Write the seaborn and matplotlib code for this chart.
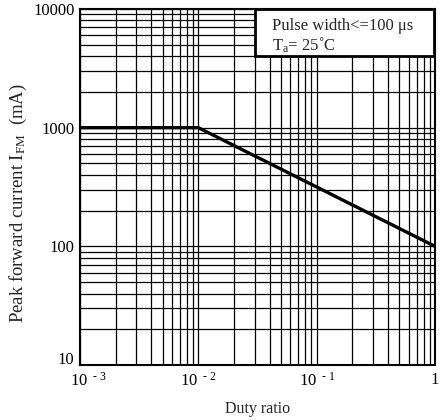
import numpy as np
import pandas as pd
import matplotlib
matplotlib.use("Agg")
import matplotlib.pyplot as plt
import matplotlib.transforms as mtransforms
import seaborn as sns
from matplotlib.ticker import LogLocator, NullFormatter, FixedLocator
from matplotlib.patches import Rectangle

duty_ratio = [0.001, 0.01, 1.0]
peak_current = [1000, 1000, 100]
x_ticks = [1e-3, 1e-2, 1e-1, 1]
x_labels = [r"$\mathregular{10^{\ \ ‐\ 3}}$", r"$\mathregular{10^{\ \ ‐\ 2}}$", r"$\mathregular{10^{\ \ ‐\ 1}}$", "1"]
y_ticks = [10, 100, 1000, 10000]
y_labels = ["10", "100", "1000", "10000"]

sns.set_style("white")
plt.rcParams['font.family'] = ['Liberation Serif', 'DejaVu Serif']
plt.rcParams['mathtext.fontset'] = 'custom'
plt.rcParams['mathtext.rm'] = 'Liberation Serif'
plt.rcParams['mathtext.it'] = 'Liberation Serif:italic'

fig = plt.figure(figsize=(4.42, 4.2), dpi=100)
ax = fig.add_axes([80/442, 1 - 365/420, 355/442, 356/420])

df = pd.DataFrame({"duty": duty_ratio, "current": peak_current})
sns.lineplot(data=df, x="duty", y="current", ax=ax, color="black", linewidth=2.4, zorder=5)

ax.set_xscale("log")
ax.set_yscale("log")
ax.set_xlim(1e-3, 1)
ax.set_ylim(10, 10000)

ax.xaxis.set_major_locator(FixedLocator(x_ticks))
ax.set_xticklabels(x_labels)
ax.yaxis.set_major_locator(FixedLocator(y_ticks))
ax.set_yticklabels(y_labels)
ax.xaxis.set_minor_locator(LogLocator(base=10, subs=np.arange(2, 10)))
ax.yaxis.set_minor_locator(LogLocator(base=10, subs=np.arange(2, 10)))
ax.xaxis.set_minor_formatter(NullFormatter())
ax.yaxis.set_minor_formatter(NullFormatter())

ax.grid(True, which="both", color="black", linewidth=0.9)
ax.tick_params(which="both", length=0, labelsize=12, colors="black")
ax.tick_params(axis="x", pad=5)
ax.tick_params(axis="y", pad=4)
for s in ax.spines.values():
    s.set_color("black")
    s.set_linewidth(1.5)

# shift first x label right and lowest y label up, as in the reference
xl = ax.get_xticklabels()
xl[0].set_transform(xl[0].get_transform() + mtransforms.ScaledTranslation(8/100, 0, fig.dpi_scale_trans))
yl = ax.get_yticklabels()
yl[0].set_transform(yl[0].get_transform() + mtransforms.ScaledTranslation(0, 7/100, fig.dpi_scale_trans))

ax.set_xlabel("Duty ratio", fontsize=11.5, labelpad=8)
ax.set_ylabel(r"Peak forward current I$_{\mathregular{FM}}$  (mA)", fontsize=13.5)
ax.yaxis.set_label_coords(-0.145, 0.455)

box = Rectangle((0.493, 0.868), 0.504, 0.132, transform=ax.transAxes,
                facecolor="white", edgecolor="black", linewidth=2.0, zorder=9, clip_on=False)
ax.add_patch(box)
ax.text(0.541, 0.953, "Pulse width<=100 μs", transform=ax.transAxes,
        ha="left", va="center", fontsize=12, zorder=10)
ax.text(0.541, 0.897, r"T$_{\mathregular{a}}$= 25˚C", transform=ax.transAxes,
        ha="left", va="center", fontsize=12, zorder=10)

fig.savefig("out.png", dpi=100)
